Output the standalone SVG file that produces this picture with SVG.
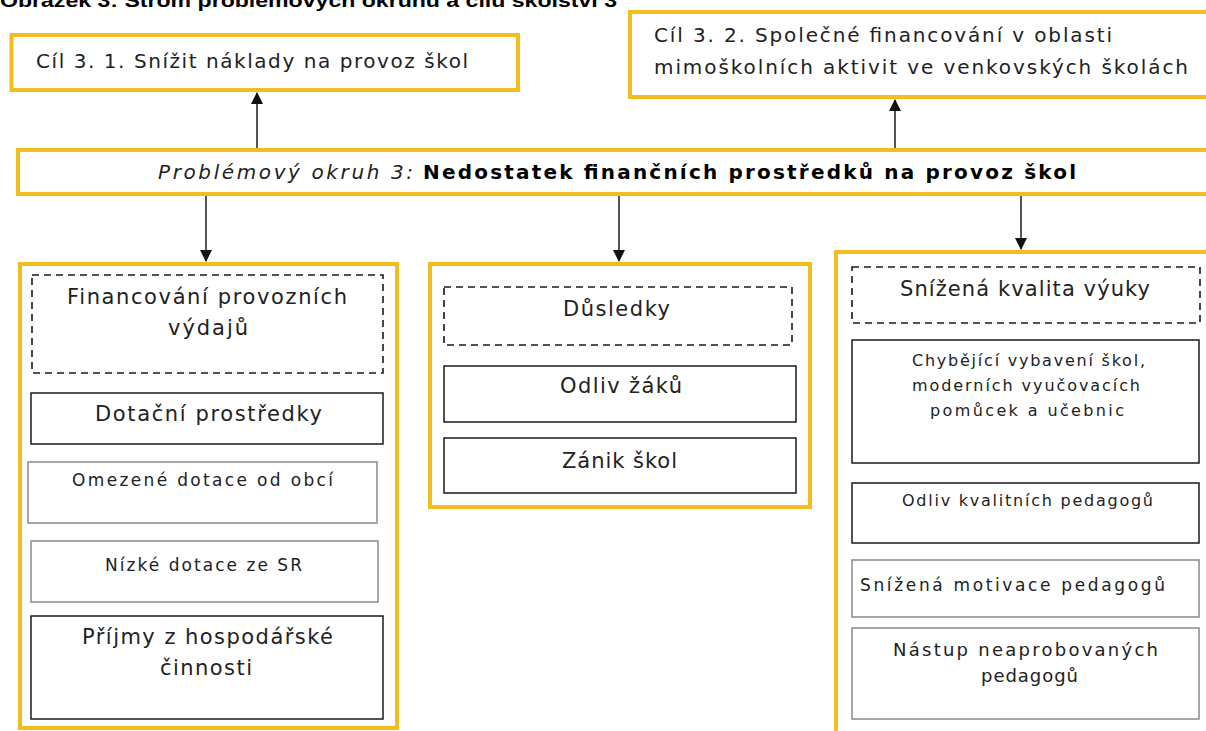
<svg xmlns="http://www.w3.org/2000/svg" width="1206" height="731" viewBox="0 0 1206 731">
<style>
  .yb{fill:#ffffff;stroke:#F2BE1E;stroke-width:4}
  .bk{fill:#ffffff;stroke:#1a1a1a;stroke-width:1.5}
  .gr{fill:#ffffff;stroke:#8a8a8a;stroke-width:1.5}
  .ds{fill:#ffffff;stroke:#1a1a1a;stroke-width:1.6;stroke-dasharray:7 5}
  .t{font-family:"DejaVu Sans","Verdana",sans-serif;fill:#222222}
  .cn{stroke:#555555;stroke-width:2;fill:none}
</style>
<defs>
  <marker id="ah" markerUnits="userSpaceOnUse" markerWidth="12" markerHeight="12" refX="11" refY="6" orient="auto">
    <path d="M0,0 L12,6 L0,12 z" fill="#111111"/>
  </marker>
</defs>
<rect x="0" y="0" width="1206" height="731" fill="#ffffff"/>

<text x="0" y="7" font-family="Liberation Sans, Arial, sans-serif" font-weight="bold" font-size="18" fill="#000" textLength="617" lengthAdjust="spacingAndGlyphs">Obrázek 3: Strom problémových okruhů a cílů školství 3</text>

<g id="connectors">
  <line class="cn" x1="257" y1="148" x2="257" y2="93" marker-end="url(#ah)"/>
  <line class="cn" x1="895" y1="148" x2="895" y2="100" marker-end="url(#ah)"/>
  <line class="cn" x1="206" y1="196" x2="206" y2="261" marker-end="url(#ah)"/>
  <line class="cn" x1="619" y1="196" x2="619" y2="261" marker-end="url(#ah)"/>
  <line class="cn" x1="1021" y1="196" x2="1021" y2="249" marker-end="url(#ah)"/>
</g>

<g id="goal1">
  <rect class="yb" x="11.5" y="35" width="506.5" height="55"/>
  <text class="t" x="36" y="68" font-size="20" textLength="432" lengthAdjust="spacing">Cíl 3. 1. Snížit náklady na provoz škol</text>
</g>

<g id="goal2">
  <rect class="yb" x="630" y="12" width="600" height="85"/>
  <text class="t" x="654" y="42" font-size="20" textLength="458" lengthAdjust="spacing">Cíl 3. 2. Společné financování v oblasti</text>
  <text class="t" x="654" y="74" font-size="20" textLength="534" lengthAdjust="spacing">mimoškolních aktivit ve venkovských školách</text>
</g>

<g id="problem">
  <rect class="yb" x="18" y="150" width="1210" height="44"/>
  <text class="t" x="158" y="179" font-size="20" font-style="italic" textLength="255" lengthAdjust="spacing">Problémový okruh 3:</text>
  <text class="t" x="423" y="179" font-size="20" font-weight="bold" textLength="653" lengthAdjust="spacing" style="fill:#000">Nedostatek finančních prostředků na provoz škol</text>
</g>

<g id="col-left">
  <rect class="yb" x="20" y="264" width="377" height="464"/>
</g>
<g id="financovani">
  <rect class="ds" x="32" y="275" width="351" height="98"/>
  <text class="t" x="67" y="304" font-size="21" textLength="280" lengthAdjust="spacing">Financování provozních</text>
  <text class="t" x="168" y="335" font-size="21" textLength="80" lengthAdjust="spacing">výdajů</text>
</g>
<g id="dotacni">
  <rect class="bk" x="31" y="393" width="352" height="51"/>
  <text class="t" x="95" y="421" font-size="21" textLength="227" lengthAdjust="spacing">Dotační prostředky</text>
</g>
<g id="omezene">
  <rect class="gr" x="28" y="462" width="349" height="61"/>
  <text class="t" x="72" y="486" font-size="17" textLength="261" lengthAdjust="spacing">Omezené dotace od obcí</text>
</g>
<g id="nizke">
  <rect class="gr" x="31" y="541" width="347" height="61"/>
  <text class="t" x="105" y="571" font-size="17" textLength="197" lengthAdjust="spacing">Nízké dotace ze SR</text>
</g>
<g id="prijmy">
  <rect class="bk" x="31" y="616" width="352" height="103"/>
  <text class="t" x="82" y="644" font-size="21" textLength="251" lengthAdjust="spacing">Příjmy z hospodářské</text>
  <text class="t" x="160" y="675" font-size="21" textLength="92" lengthAdjust="spacing">činnosti</text>
</g>

<g id="col-mid">
  <rect class="yb" x="430" y="264" width="380" height="243"/>
</g>
<g id="dusledky">
  <rect class="ds" x="444" y="287" width="348" height="58"/>
  <text class="t" x="563" y="316" font-size="21" textLength="107" lengthAdjust="spacing">Důsledky</text>
</g>
<g id="odliv-zaku">
  <rect class="bk" x="444" y="366" width="352" height="56"/>
  <text class="t" x="560" y="393" font-size="21" textLength="122" lengthAdjust="spacing">Odliv žáků</text>
</g>
<g id="zanik">
  <rect class="bk" x="444" y="438" width="352" height="55"/>
  <text class="t" x="562" y="468" font-size="21" textLength="115" lengthAdjust="spacing">Zánik škol</text>
</g>

<g id="col-right">
  <rect class="yb" x="836" y="252" width="400" height="500"/>
</g>
<g id="kvalita">
  <rect class="ds" x="852" y="267" width="348" height="56"/>
  <text class="t" x="900" y="296" font-size="21" textLength="250" lengthAdjust="spacing">Snížená kvalita výuky</text>
</g>
<g id="vybaveni">
  <rect class="bk" x="852" y="340" width="347" height="123"/>
  <text class="t" x="912" y="366" font-size="16" textLength="233" lengthAdjust="spacing">Chybějící vybavení škol,</text>
  <text class="t" x="912" y="391" font-size="16" textLength="228" lengthAdjust="spacing">moderních vyučovacích</text>
  <text class="t" x="930" y="416" font-size="16" textLength="194" lengthAdjust="spacing">pomůcek a učebnic</text>
</g>
<g id="odliv-pedagogu">
  <rect class="bk" x="852" y="483" width="347" height="60"/>
  <text class="t" x="902" y="506" font-size="16" textLength="251" lengthAdjust="spacing">Odliv kvalitních pedagogů</text>
</g>
<g id="motivace">
  <rect class="gr" x="852" y="560" width="347" height="57"/>
  <text class="t" x="860" y="591" font-size="17" textLength="305" lengthAdjust="spacing">Snížená motivace pedagogů</text>
</g>
<g id="nastup">
  <rect class="gr" x="852" y="628" width="347" height="91"/>
  <text class="t" x="893" y="656" font-size="18" textLength="265" lengthAdjust="spacing">Nástup neaprobovaných</text>
  <text class="t" x="981" y="682" font-size="18" textLength="97" lengthAdjust="spacing">pedagogů</text>
</g>
</svg>
